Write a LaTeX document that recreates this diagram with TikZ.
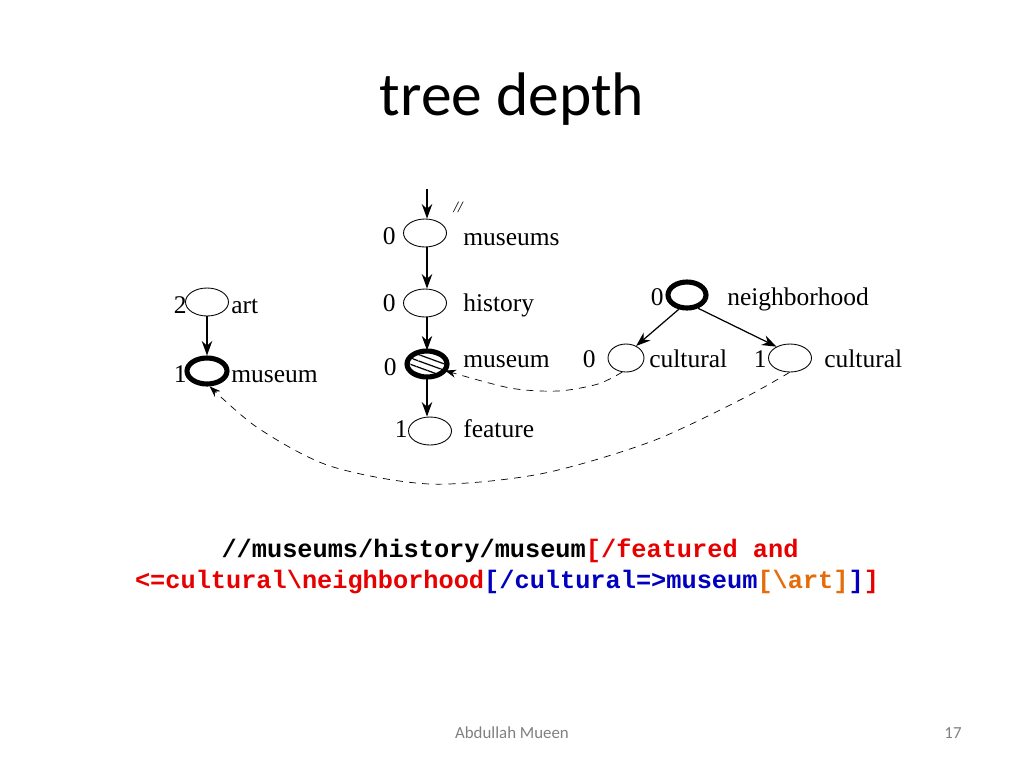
\documentclass[tikz,border=0pt]{standalone}
\usepackage{fontspec}
\setmainfont{Liberation Serif}
\newfontfamily\slidefont{Carlito}
\newfontfamily\codefont{Liberation Mono}
\usetikzlibrary{arrows.meta,shapes.geometric,patterns.meta}
\definecolor{qred}{RGB}{230,0,0}
\definecolor{qblue}{RGB}{0,0,190}
\definecolor{qorange}{RGB}{228,108,10}
\definecolor{footgrey}{RGB}{128,128,128}

\begin{document}
\begin{tikzpicture}[x=0.02cm, y=-0.02cm, >={Stealth[length=2.9mm, width=2.1mm]},
	every node/.style={font=\fontsize{14.5}{17}\selectfont},
	qnode/.style={draw, ellipse, line width=0.5pt, inner sep=0pt, minimum width=0.86cm, minimum height=0.56cm},
	bold qnode/.style={qnode, line width=2.9pt, minimum width=0.8cm, minimum height=0.52cm},
	tag/.style={anchor=base west, inner sep=0pt},
	dnum/.style={anchor=base east, inner sep=0pt},
	link/.style={->, line width=0.7pt},
	backref/.style={->, line width=0.4pt, dash pattern=on 4pt off 3.5pt, >={Stealth[length=2.2mm, width=1.6mm]}}]
	\useasboundingbox (0,0) rectangle (1024,768);
	\node[font=\slidefont\fontsize{35}{40}\selectfont, anchor=base] (title) at (512,115) {tree depth};
	% main path
	\coordinate (entry) at (427,189);
	\node[font=\fontsize{9}{10}\selectfont\itshape] (slash) at (458,207) {//};
	\node[qnode] (museums) at (425,233) {};
	\node[qnode] (history) at (425,303) {};
	\node[bold qnode, pattern={Lines[angle=-20, distance=3.4pt, line width=0.7pt]}] (museum) at (427,364) {};
	\node[qnode] (feature) at (430,431) {};
	\node[dnum] (d1) at (396,244) {0};
	\node[dnum] (d2) at (396,311) {0};
	\node[dnum] (d3) at (397,375) {0};
	\node[dnum] (d4) at (408,437) {1};
	\node[tag] (l1) at (463,245) {museums};
	\node[tag] (l2) at (463,311) {history};
	\node[tag] (l3) at (463,367) {museum};
	\node[tag] (l4) at (463,437) {feature};
	\draw[link] (entry) -- (entry |- museums.north);
	\draw[link] (entry |- museums.south) -- (entry |- history.north);
	\draw[link] (entry |- history.south) -- (entry |- museum.north);
	\draw[link] (entry |- museum.south) -- (entry |- feature.north);
	% left branch
	\node[qnode] (art) at (207,302) {};
	\node[bold qnode] (lmus) at (207,371) {};
	\node[dnum] (d5) at (187,313) {2};
	\node[dnum] (d6) at (187,382) {1};
	\node[tag] (l5) at (231,313) {art};
	\node[tag] (l6) at (231,382) {museum};
	\draw[link] (art) -- (lmus);
	% right branch
	\node[bold qnode, minimum width=0.76cm] (neigh) at (687,295) {};
	\node[qnode, minimum width=0.72cm] (cult1) at (626,358) {};
	\node[qnode] (cult2) at (790,358) {};
	\node[dnum] (d7) at (664,305) {0};
	\node[dnum] (d8) at (596,367) {0};
	\node[dnum] (d9) at (767,367) {1};
	\node[tag] (l7) at (727,305) {neighborhood};
	\node[tag] (l8) at (649,367) {cultural};
	\node[tag] (l9) at (824,367) {cultural};
	\draw[link] (neigh.240) -- (cult1.50);
	\draw[link] (neigh.-50) -- (cult2.140);
	% back references
	\draw[backref] plot[smooth] coordinates {(cult1.255) (598,384) (558,391) (510,388) (museum.-20)};
	\draw[backref] plot[smooth] coordinates {(cult2.268) (740,400) (650,442) (540,474) (430,484) (330,466) (258,428) (lmus.-80)};
	% query
	\node[anchor=base, font=\codefont\bfseries\fontsize{14.4}{17}\selectfont] (q1) at (510,557)
		{//museums/history/museum\textcolor{qred}{[/featured and}};
	\node[anchor=base, font=\codefont\bfseries\fontsize{14.4}{17}\selectfont] (q2) at (507,588)
		{\textcolor{qred}{<=cultural\textbackslash neighborhood}\textcolor{qblue}{[/cultural=>museum}\textcolor{qorange}{[\textbackslash art]}\textcolor{qblue}{]}\textcolor{qred}{]}};
	% footer
	\node[anchor=base, font=\slidefont\fontsize{9.6}{11}\selectfont, text=footgrey] (author) at (512,738) {Abdullah Mueen};
	\node[anchor=base, font=\slidefont\fontsize{9.6}{11}\selectfont, text=footgrey] (page) at (953,738) {17};
\end{tikzpicture}
\end{document}
